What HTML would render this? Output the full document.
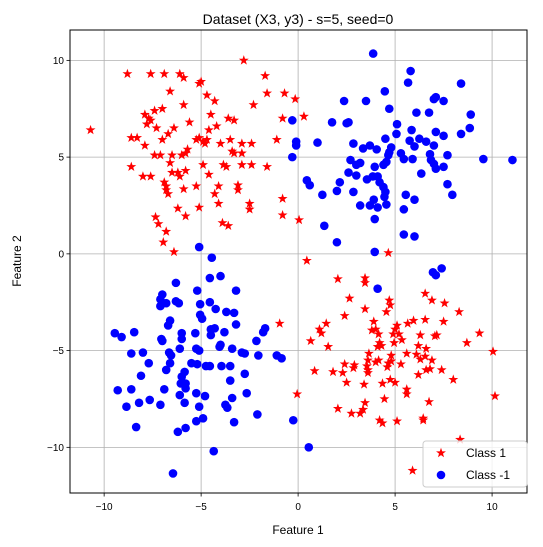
<!DOCTYPE html>
<html><head><meta charset="utf-8">
<style>
html,body{margin:0;padding:0;background:#fff;}
svg{display:block;font-family:"Liberation Sans","DejaVu Sans",sans-serif;}
</style></head>
<body>
<svg id="chart" width="543" height="547" viewBox="0 0 543 547" xmlns="http://www.w3.org/2000/svg">
<rect x="0" y="0" width="543" height="547" fill="#fff"/>
<text x="298" y="24" text-anchor="middle" font-size="14" fill="#000">Dataset (X3, y3) - s=5, seed=0</text>
<g id="grid"></g>
<g id="pts"></g>
<rect x="70" y="30" width="457" height="463" fill="none" stroke="#000" stroke-width="1"/>
<g id="ticks"></g>
<text x="298" y="534" text-anchor="middle" font-size="12">Feature 1</text>
<text x="21" y="261" text-anchor="middle" font-size="12" transform="rotate(-90 21 261)">Feature 2</text>
<g>
<rect x="423" y="441" width="104" height="46" rx="3" fill="#fff" fill-opacity="0.8" stroke="#ccc"/>
<g id="legstar"></g>
<text x="466" y="457" font-size="12">Class 1</text>
<circle cx="441" cy="475" r="4.3" fill="#0000ff"/>
<text x="466" y="479" font-size="12">Class -1</text>
</g>
</svg>
<script>
const xTicks=[-10,-5,0,5,10];
const yTicks=[-10,-5,0,5,10];
const classPosX=[-2.8,-8.8,-7.6,-6.9,-6.1,-5.9,-5.1,-5.0,-1.7,-6.6,-4.7,-4.3,-1.6,-0.7,-0.15,-5.9,-2.3,-7.9,-7.4,-7.0,-7.7,-7.6,-7.8,-10.7,-7.3,-6.4,-6.7,-7.0,-5.6,-4.5,-4.2,-3.6,-3.3,-4.6,-0.8,-8.6,-8.3,-7.9,-5.25,-5.1,-4.8,-4.7,-4.9,-4.0,-3.5,-2.9,-2.4,-1.1,-3.4,-3.3,-2.9,-5.7,-5.8,-6.0,-6.5,-7.1,-7.4,-8.6,-6.6,-8.0,-7.6,-6.5,-6.2,-5.8,-6.1,-4.9,-4.6,-3.85,-3.7,-2.9,-2.4,-1.6,-6.9,-6.8,-6.7,-6.8,-5.9,-5.25,-4.1,-4.3,-3.1,-3.1,-5.1,-4.1,-6.2,-5.8,-2.5,-2.5,-0.8,-0.8,-7.35,-7.2,-6.8,-6.95,-3.9,-3.6,-6.4,0.3,0.05,4.65,0.45,-0.95,-0.05,2.05,3.45,3.45,2.65,6.55,6.9,7.55,8.3,4.7,4.75,4.55,3.45,2.4,1.45,1.1,1.2,3.9,3.8,4.0,4.15,5.1,5.0,4.9,5.2,5.65,5.95,6.55,7.5,6.3,7.05,7.15,5.35,9.35,8.7,0.65,1.55,4.2,4.3,4.1,4.95,6.2,6.6,10.05,3.65,4.8,5.6,6.1,6.55,6.3,6.9,3.6,4.15,4.0,2.4,2.9,2.85,3.55,3.6,3.6,4.65,4.8,5.3,4.6,0.85,1.8,2.3,6.6,6.8,7.4,6.2,8.0,2.5,3.4,4.35,4.75,5.0,5.6,5.6,10.15,4.45,6.75,3.45,3.35,3.2,2.75,2.05,4.2,4.35,5.1,6.45,6.45,8.35,5.9];
const classPosY=[10.0,9.3,9.3,9.3,9.3,9.1,8.8,8.9,9.2,8.4,8.2,7.9,8.3,8.3,8.0,7.7,7.7,7.2,7.4,7.5,7.0,6.9,6.7,6.4,6.5,6.5,6.2,5.9,6.8,7.2,6.6,7.0,6.9,6.4,7.0,6.0,6.0,5.6,5.9,6.0,5.7,5.9,5.8,5.7,5.9,5.7,5.7,5.9,5.3,5.2,5.2,5.4,5.2,5.1,5.1,5.1,5.1,4.5,4.7,4.0,4.0,4.2,4.2,4.3,4.0,4.6,4.1,4.6,4.5,4.6,4.6,4.5,3.7,3.5,3.1,3.3,3.35,3.5,3.5,3.1,3.55,3.3,2.4,2.6,2.35,1.95,2.6,2.3,2.85,2.0,1.9,1.55,1.15,0.6,1.6,1.45,0.1,7.1,1.75,0.05,-0.35,-3.6,-7.25,-1.3,-1.25,-1.5,-2.3,-2.05,-2.4,-2.55,-3.0,-2.4,-2.65,-3.0,-2.85,-3.2,-3.6,-3.9,-4.1,-3.5,-3.95,-3.9,-4.15,-3.7,-3.9,-4.15,-4.15,-3.6,-3.45,-3.4,-3.5,-4.2,-4.25,-4.2,-4.45,-4.1,-4.6,-4.5,-4.8,-4.6,-4.75,-4.8,-4.6,-4.75,-4.9,-5.05,-5.15,-5.25,-5.15,-5.2,-5.3,-5.45,-5.5,-5.5,-5.5,-5.6,-5.7,-5.75,-5.9,-5.8,-6.0,-6.15,-5.65,-5.55,-5.7,-5.85,-6.05,-6.1,-6.15,-6.0,-5.95,-6.0,-6.25,-6.5,-6.65,-6.75,-6.7,-6.5,-6.65,-7.0,-7.25,-7.35,-7.5,-7.65,-7.7,-8.05,-8.25,-8.25,-8.0,-8.6,-8.75,-8.65,-8.5,-8.6,-9.6,-11.2];
const classNegX=[-0.3,-0.1,-0.1,-0.3,-5.1,-4.45,3.87,5.8,5.67,8.4,4.47,2.37,3.5,7.0,7.1,7.5,4.7,6.1,6.75,8.9,8.85,8.4,1.75,2.5,2.6,5.1,5.07,5.85,7.1,7.5,1.0,2.85,4.5,5.75,6.25,6.0,6.6,7.0,3.35,3.7,4.05,4.8,4.7,4.65,5.3,5.45,5.9,6.8,6.85,7.7,9.55,11.05,2.7,3.2,3.0,3.95,4.4,4.55,7.0,7.1,7.5,2.6,3.0,3.55,3.85,4.1,4.2,6.35,0.45,0.6,2.15,2.0,4.4,4.5,4.45,2.85,1.25,7.7,7.95,5.55,6.0,3.9,3.7,3.2,4.1,4.55,5.45,3.95,1.35,2.0,5.45,6.0,3.95,6.95,7.4,7.1,4.1,-0.25,0.55,-0.85,-4.55,-4.0,-6.3,-5.2,-3.2,-7.0,-7.1,-6.8,-7.1,-6.3,-6.15,-5.05,-4.55,-4.25,-5.05,-4.95,-3.7,-3.3,-6.6,-6.7,-3.2,-9.45,-9.1,-8.45,-7.05,-7.0,-6.0,-6.0,-5.3,-4.5,-4.5,-4.3,-3.8,-1.7,-1.8,-2.15,-8.6,-8.0,-6.65,-6.55,-6.1,-5.25,-5.1,-4.0,-4.05,-3.4,-2.9,-2.75,-2.05,-1.1,-7.7,-6.6,-6.8,-5.5,-5.2,-4.75,-4.55,-3.95,-3.5,-8.1,-5.85,-6.0,-6.05,-5.8,-5.8,-2.75,-3.5,-9.3,-8.6,-6.9,-6.1,-5.85,-5.25,-4.8,-2.65,-3.4,-3.75,-3.65,-8.85,-8.2,-7.65,-7.1,-5.1,-2.1,-5.25,-4.9,-3.3,-8.35,-6.2,-5.8,-4.35,-6.45];
const classNegY=[6.9,5.8,5.6,5.0,0.35,-0.2,10.35,9.45,8.85,8.8,8.4,7.9,7.9,8.0,8.1,7.9,7.5,7.3,7.3,7.2,6.5,6.2,6.8,6.75,6.8,6.7,6.2,6.4,6.3,6.1,5.75,5.7,5.95,5.85,5.95,5.55,5.8,5.6,5.45,5.6,5.4,5.5,5.25,5.1,5.2,4.9,4.9,5.15,4.85,5.1,4.9,4.85,4.85,4.7,4.6,4.5,4.6,4.75,4.65,4.4,4.5,4.2,4.05,3.85,4.0,4.0,3.7,4.15,3.8,3.55,3.7,3.25,3.45,3.2,2.95,3.2,3.05,3.6,3.05,3.05,2.8,2.8,2.5,2.5,2.4,2.55,2.3,1.8,1.45,0.6,1.0,0.9,0.1,-0.95,-0.75,-1.1,-1.8,-8.6,-10.0,-5.4,-1.25,-1.15,-1.5,-1.9,-1.9,-2.1,-2.35,-2.55,-2.7,-2.45,-2.55,-2.6,-2.5,-2.85,-3.15,-3.35,-3.0,-3.05,-3.45,-3.7,-3.65,-4.1,-4.3,-4.05,-4.4,-4.5,-4.1,-4.4,-4.1,-4.2,-3.9,-3.85,-4.05,-3.85,-4.05,-4.5,-5.15,-5.1,-5.1,-5.25,-4.9,-4.9,-5.0,-4.7,-4.8,-4.9,-5.1,-5.15,-5.25,-5.25,-5.65,-5.65,-6.0,-5.65,-5.7,-5.8,-5.8,-5.8,-5.8,-6.3,-6.1,-6.35,-6.7,-6.7,-6.95,-6.2,-6.55,-7.05,-7.0,-7.0,-7.3,-7.7,-7.2,-7.35,-7.2,-7.45,-7.8,-7.95,-7.9,-7.7,-7.55,-7.8,-7.9,-8.3,-8.65,-8.5,-8.7,-8.95,-9.2,-9.0,-10.2,-11.35];

const NS='http://www.w3.org/2000/svg';
const L=70,R=527,T=30,B=493;
const XMIN=-11.76,XMAX=11.8,YMIN=-12.36,YMAX=11.57;
function sx(v){return L+(v-XMIN)/(XMAX-XMIN)*(R-L);}
function sy(v){return B-(v-YMIN)/(YMAX-YMIN)*(B-T);}
function mk(tag,attrs){const e=document.createElementNS(NS,tag);for(const k in attrs)e.setAttribute(k,attrs[k]);return e;}
function starPath(cx,cy,ro){const ri=ro*0.4;let d='';for(let i=0;i<10;i++){const r=i%2?ri:ro;const a=-Math.PI/2+i*Math.PI/5;d+=(i?'L':'M')+(cx+r*Math.cos(a)).toFixed(2)+' '+(cy+r*Math.sin(a)).toFixed(2);}return d+'Z';}

const grid=document.getElementById('grid'),ticks=document.getElementById('ticks'),pts=document.getElementById('pts');
xTicks.forEach(t=>{
  const x=sx(t);
  const g=mk('line',{x1:x,x2:x,y1:T,y2:B,stroke:'#b0b0b0','stroke-width':0.8});
  
  
  grid.appendChild(g);
  const tk=mk('line',{x1:x,x2:x,y1:B,y2:B+3.5,stroke:'#000','stroke-width':0.8});
  
  
  ticks.appendChild(tk);
  const lb=mk('text',{x:x,y:B+17,'text-anchor':'middle','font-size':10});
  
  
  lb.textContent=t<0?'\u2212'+(-t):String(t);
  ticks.appendChild(lb);
});
yTicks.forEach(t=>{
  const y=sy(t);
  const g=mk('line',{x1:L,x2:R,y1:y,y2:y,stroke:'#b0b0b0','stroke-width':0.8});
  
  
  grid.appendChild(g);
  const tk=mk('line',{x1:L-3.5,x2:L,y1:y,y2:y,stroke:'#000','stroke-width':0.8});
  
  
  ticks.appendChild(tk);
  const lb=mk('text',{x:L-6,y:y+3.5,'text-anchor':'end','font-size':10});
  
  
  lb.textContent=t<0?'\u2212'+(-t):String(t);
  ticks.appendChild(lb);
});
classPosX.forEach((v,i)=>{
  const p=mk('path',{d:starPath(sx(v),sy(classPosY[i]),5.2),fill:'#ff0000'});
  
  
  pts.appendChild(p);
});
classNegX.forEach((v,i)=>{
  const c=mk('circle',{cx:sx(v),cy:sy(classNegY[i]),r:4.3,fill:'#0000ff'});
  
  
  pts.appendChild(c);
});
const ls=mk('path',{d:starPath(441,453,5.2),fill:'#ff0000'});


document.getElementById('legstar').appendChild(ls);
</script>
</body></html>
